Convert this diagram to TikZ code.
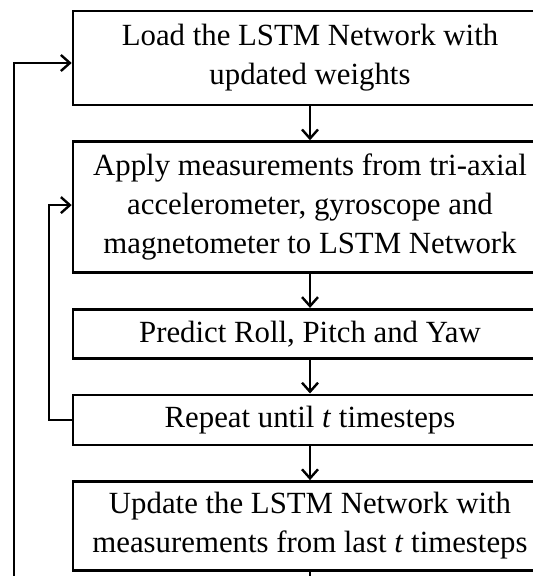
\documentclass[tikz,border=0pt]{standalone}
\usepackage{fontspec}
\setmainfont{Liberation Serif}
\usepackage{tikz}
\usetikzlibrary{positioning,arrows.meta}

\begin{document}
\begin{tikzpicture}[x=0.5pt, y=0.5pt, node distance={17pt}, main/.style={draw, line width=1.3pt, minimum width=237pt, align=center, inner sep=2pt, font=\fontsize{15.4}{19.5}\selectfont}, line width=1.2pt, >={Straight Barb[length=4.5pt,width=8pt]}]
		\useasboundingbox (0,0) rectangle (533,-576);
		\clip (0,0) rectangle (533,-576);

		\node[main, minimum height=47pt] (1) at (310,-58) {Load the LSTM Network with\\updated weights};
		\node[main, minimum height=65.5pt] (2) [below=of 1] {Apply measurements from tri-axial\\accelerometer, gyroscope and\\magnetometer to LSTM Network};
		\node[main, minimum height=24.5pt] (3) [below=of 2] {Predict Roll, Pitch and Yaw};
		\node[main, minimum height=25pt] (4) [below=of 3] {Repeat until \textit{t} timesteps};
		\node[main, minimum height=44.5pt] (5) [below=of 4] {Update the LSTM Network with\\measurements from last \textit{t} timesteps};
		\coordinate (outer) at (14,-590);

		\draw[->] (1) to (2);
		\draw[->] (2) to (3);
		\draw[->] (3) to (4);
		\draw[->] (4) to (5);
		\draw[->] (4.west) -- ++(-23,0) |- ([yshift=1pt]2.west);
		\draw[->] (5.south) -- (5.south |- outer) -| ([yshift=-2.5pt]outer |- 1.west) -- ([yshift=-2.5pt]1.west);

	\end{tikzpicture}
\end{document}
